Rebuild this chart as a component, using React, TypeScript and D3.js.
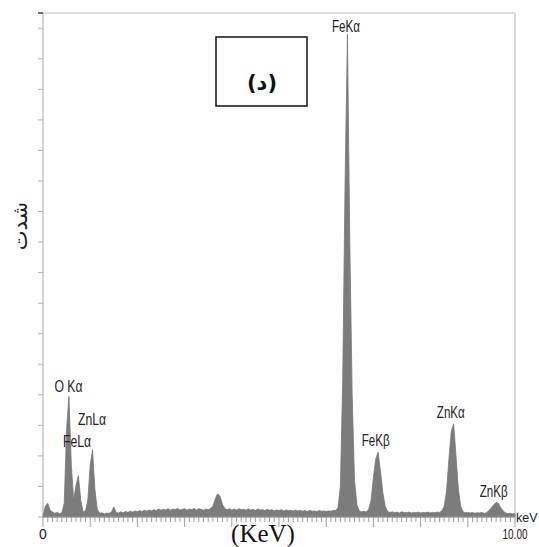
import React from "react";
import * as d3 from "d3";

// EDS spectrum, sampled every 0.05 keV from 0 to 10 keV (arbitrary intensity units)
const energyStep = 0.05;
const counts: number[] = [
  0.05, 0.35, 0.45, 0.22, 0.16, 0.12, 0.15, 0.11, 0.14, 0.45,
  2.9, 3.95, 1.7, 0.55, 1.05, 1.35, 0.55, 0.17, 0.2, 0.55,
  1.7, 2.2, 0.9, 0.25, 0.12, 0.14, 0.1, 0.13, 0.12, 0.16,
  0.33, 0.15, 0.13, 0.17, 0.14, 0.18, 0.15, 0.19, 0.16, 0.2,
  0.17, 0.21, 0.18, 0.22, 0.19, 0.23, 0.2, 0.24, 0.21, 0.26,
  0.22, 0.25, 0.23, 0.27, 0.22, 0.26, 0.24, 0.28, 0.23, 0.25,
  0.27, 0.22, 0.26, 0.24, 0.28, 0.23, 0.27, 0.25, 0.22, 0.26,
  0.24, 0.28, 0.35, 0.6, 0.76, 0.68, 0.42, 0.28, 0.24, 0.27,
  0.23, 0.26, 0.22, 0.27, 0.24, 0.25, 0.22, 0.27, 0.23, 0.25,
  0.21, 0.26, 0.23, 0.24, 0.21, 0.25, 0.22, 0.24, 0.2, 0.23,
  0.21, 0.24, 0.2, 0.23, 0.21, 0.22, 0.19, 0.23, 0.2, 0.22,
  0.19, 0.21, 0.18, 0.22, 0.19, 0.2, 0.18, 0.21, 0.19, 0.2,
  0.18, 0.2, 0.19, 0.21, 0.22, 0.3, 1.0, 4.5, 11.0, 15.8,
  9.0, 4.0, 1.2, 0.4, 0.2, 0.17, 0.19, 0.16, 0.25, 0.55,
  1.3, 1.9, 2.12, 1.5, 0.8, 0.35, 0.18, 0.15, 0.17, 0.14,
  0.16, 0.13, 0.17, 0.15, 0.14, 0.16, 0.13, 0.15, 0.14, 0.16,
  0.13, 0.15, 0.14, 0.16, 0.13, 0.15, 0.14, 0.16, 0.15, 0.2,
  0.35, 0.85, 1.9, 2.8, 3.05, 2.0, 0.9, 0.35, 0.17, 0.14,
  0.15, 0.13, 0.15, 0.12, 0.14, 0.13, 0.15, 0.12, 0.14, 0.22,
  0.3, 0.4, 0.48, 0.44, 0.3, 0.2, 0.13, 0.11, 0.12, 0.1,
  0.11,
];

// Peak labels: name, energy (keV) of label centre, intensity level of label baseline
const peakNames = ["O Kα", "FeLα", "ZnLα", "FeKα", "FeKβ", "ZnKα", "ZnKβ"];
const peakEnergies = [0.54, 0.72, 1.04, 6.42, 7.05, 8.64, 9.55];
const peakLevels = [4.09, 2.29, 3.01, 15.88, 2.32, 3.24, 0.65];

const xTickLabels = [
  { value: 0, text: "0" },
  { value: 10, text: "10.00" },
];
const xAxisTitle = "(KeV)";
const xUnit = "keV";
const yAxisTitle = "شدت";
const panelLabel = "(د)";

const W = 539;
const H = 547;

export default function App() {
  const x = d3.scaleLinear().domain([0, 10]).range([43, 515]);
  const y = d3.scaleLinear().domain([0, 16.5]).range([517, 13]);

  const data = counts.map((c, i) => ({ e: i * energyStep, c }));
  const area = d3
    .area<{ e: number; c: number }>()
    .x((d) => x(d.e))
    .y0(y(0))
    .y1((d) => y(d.c))
    .curve(d3.curveLinear);

  const yTicks = d3.range(0, 17);
  const minorX = d3.range(0, 101).map((i) => i / 10);
  const labelFont = "'Liberation Sans', Arial, sans-serif";

  return (
    <svg
      width={W}
      height={H}
      style={{ position: "absolute", left: 0, top: 0, background: "#fff" }}
    >
      {/* frame */}
      <line x1={x(0)} x2={x(10)} y1={y(16.5)} y2={y(16.5)} stroke="#d4d4d4" strokeWidth={1.5} />
      <line x1={x(10)} x2={x(10)} y1={y(16.5)} y2={y(0)} stroke="#d8d8d8" strokeWidth={2} />
      {/* left axis */}
      <line x1={x(0)} x2={x(0)} y1={y(16.5)} y2={y(0)} stroke="#a8a8a8" strokeWidth={1} />
      {yTicks.map((t) => (
        <line key={t} x1={x(0) - 5} x2={x(0)} y1={y(t)} y2={y(t)} stroke="#b0b0b0" strokeWidth={1} />
      ))}
      <line x1={x(0) - 5} x2={x(0)} y1={y(16.5)} y2={y(16.5)} stroke="#444" strokeWidth={1.5} />

      {/* bottom axis ticks */}
      {minorX.map((v, i) => (
        <line
          key={i}
          x1={x(v)}
          x2={x(v)}
          y1={y(0)}
          y2={y(0) + (i % 10 === 0 ? 10 : 5)}
          stroke="#a0a0a0"
          strokeWidth={1}
        />
      ))}

      {/* spectrum */}
      <path d={area(data) ?? ""} fill="#7c7c7c" stroke="#777" strokeWidth={0.8} />
      <line x1={x(0)} x2={x(10)} y1={y(0)} y2={y(0)} stroke="#9a9a9a" strokeWidth={1} />

      {/* peak labels */}
      {peakNames.map((n, i) => (
        <text
          key={n}
          x={x(peakEnergies[i])}
          y={y(peakLevels[i])}
          textAnchor="middle"
          fontFamily={labelFont}
          fontSize={17}
          fill="#222"
          textLength={28}
          lengthAdjust="spacingAndGlyphs"
        >
          {n}
        </text>
      ))}

      {/* x tick labels */}
      {xTickLabels.map((t) => (
        <text
          key={t.text}
          x={x(t.value)}
          y={539}
          textAnchor="middle"
          fontFamily={labelFont}
          fontSize={14}
          fill="#222"
          textLength={t.text.length > 1 ? 25 : undefined}
          lengthAdjust="spacingAndGlyphs"
        >
          {t.text}
        </text>
      ))}
      <text x={516} y={522} fontFamily={labelFont} fontSize={12.5} fill="#222">
        {xUnit}
      </text>
      <text
        x={263}
        y={542}
        textAnchor="middle"
        fontFamily="'Liberation Serif', 'Times New Roman', serif"
        fontSize={25}
        fill="#111"
      >
        {xAxisTitle}
      </text>

      {/* y axis title */}
      <text
        transform="translate(20,226) rotate(-90)"
        textAnchor="middle"
        dominantBaseline="central"
        fontFamily="'DejaVu Sans', 'Noto Sans', sans-serif"
        fontSize={21}
        fill="#222"
      >
        {yAxisTitle}
      </text>

      {/* panel label box */}
      <rect x={216} y={37} width={91} height={69} fill="none" stroke="#111" strokeWidth={1.5} />
      <text
        x={262}
        y={83}
        textAnchor="middle"
        dominantBaseline="central"
        fontFamily="'DejaVu Sans', 'Noto Sans', sans-serif"
        fontWeight="bold"
        fontSize={21}
        fill="#111"
      >
        {panelLabel}
      </text>
    </svg>
  );
}
